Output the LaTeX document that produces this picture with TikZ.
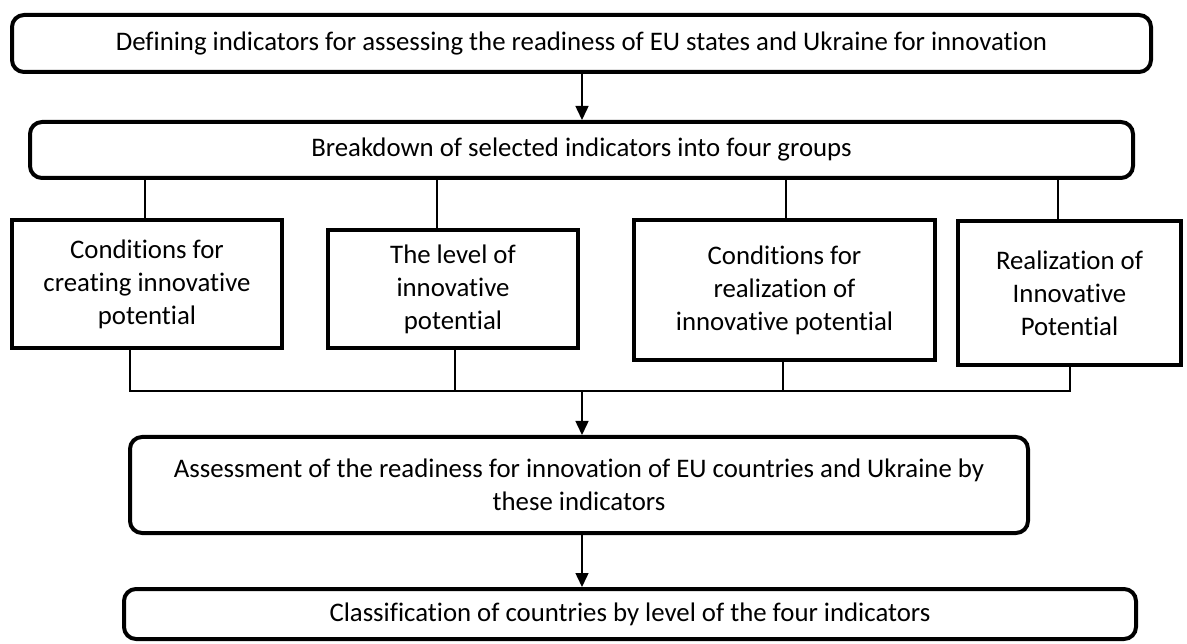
\documentclass[tikz,border=0pt]{standalone}
\usepackage{fontspec}
\setmainfont{Carlito}[Ligatures=CommonOff]
\usetikzlibrary{arrows.meta}
\begin{document}
\begin{tikzpicture}[x=1pt,y=-1pt,
  rbox/.style={draw, line width=4pt, rounded corners=12pt, inner sep=0pt, align=center,
    font=\fontsize{26.8}{33}\selectfont},
  sbox/.style={draw, line width=4.5pt, inner sep=0pt, align=center,
    font=\fontsize{26.8}{33}\selectfont},
  link/.style={line width=1.3pt},
  arr/.style={line width=1.5pt, -{Triangle[length=14pt,width=13pt]}}]
\useasboundingbox (0,0) rectangle (1187,644);
\node[rbox, minimum width=1139pt, minimum height=57pt] (top) at (581.5,43.5)
  {Defining indicators for assessing the readiness of EU states and Ukraine for innovation};
\node[rbox, minimum width=1103pt, minimum height=56pt] (b2) at (581.5,150)
  {Breakdown of selected indicators into four groups};
\node[sbox, minimum width=270pt, minimum height=128pt] (bA) at (147,284)
  {Conditions for\\creating innovative\\potential};
\node[sbox, minimum width=250pt, minimum height=118pt] (bB) at (453,289)
  {The level of\\innovative\\potential};
\node[sbox, minimum width=301pt, minimum height=140pt] (bC) at (784.5,290)
  {Conditions for\\realization of\\innovative potential};
\node[sbox, minimum width=223pt, minimum height=144pt] (bD) at (1069.5,293)
  {Realization of\\Innovative\\Potential};
\node[rbox, minimum width=898pt, minimum height=96pt] (b4) at (579,485)
  {Assessment of the readiness for innovation of EU countries and Ukraine by\\these indicators};
\node[rbox, minimum width=1012pt, minimum height=50pt] (b5) at (630,614)
  {Classification of countries by level of the four indicators};
% x positions of the connectors
\coordinate (tA) at (145,0);
\coordinate (tB) at (437,0);
\coordinate (tC) at (786,0);
\coordinate (tD) at (1058,0);
\coordinate (hL) at (130,391);
\coordinate (hB) at (455,391);
\coordinate (hC) at (783,391);
\coordinate (hR) at (1070,391);
\coordinate (aX) at (582,0);
% arrows
\draw[arr] (top.south -| aX) -- (b2.north -| aX);
\draw[link] (b2.south -| tA) -- (bA.north -| tA);
\draw[link] (b2.south -| tB) -- (bB.north -| tB);
\draw[link] (b2.south -| tC) -- (bC.north -| tC);
\draw[link] (b2.south -| tD) -- (bD.north -| tD);
\draw[link] (bA.south -| hL) -- (hL) -- (hR) -- (bD.south -| hR);
\draw[link] (bB.south -| hB) -- (hB);
\draw[link] (bC.south -| hC) -- (hC);
\draw[arr] (hL -| aX) -- (b4.north -| aX);
\draw[arr] (b4.south -| aX) -- (b5.north -| aX);
\end{tikzpicture}
\end{document}
